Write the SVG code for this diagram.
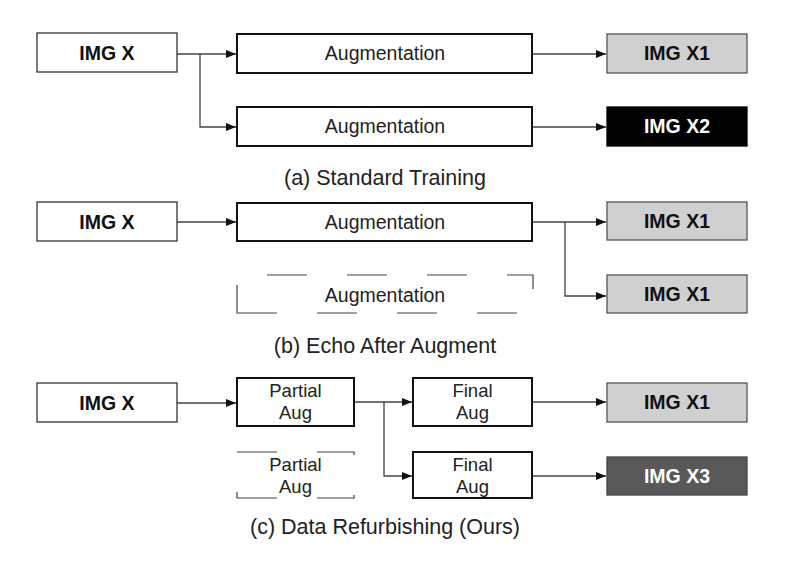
<svg xmlns="http://www.w3.org/2000/svg" width="792" height="567" viewBox="0 0 792 567">
<defs>
<style>
.in{fill:#fff;stroke:#333;stroke-width:1.3}
.aug{fill:#fff;stroke:#111;stroke-width:2}
.dash{fill:none;stroke:#444;stroke-width:1.2;stroke-dasharray:40 40}
.x1{fill:#d0d0d0;stroke:#555;stroke-width:1.3}
.x2{fill:#000;stroke:#000;stroke-width:1.3}
.x3{fill:#585858;stroke:#444;stroke-width:1.3}
.b{font-family:"Liberation Sans",Arial,sans-serif;font-weight:bold;font-size:19.5px;fill:#111;text-anchor:middle}
.w{fill:#fff}
.t{font-family:"Liberation Sans",Arial,sans-serif;font-size:19.5px;fill:#222;text-anchor:middle}
.s{font-family:"Liberation Sans",Arial,sans-serif;font-size:18.5px;fill:#222;text-anchor:middle}
.cap{font-family:"Liberation Sans",Arial,sans-serif;font-size:21.5px;fill:#222;text-anchor:middle}
.c{fill:none;stroke:#444;stroke-width:1.3}
</style>
<marker id="ah" viewBox="0 0 10 8" refX="10" refY="4" markerWidth="10" markerHeight="8" markerUnits="userSpaceOnUse" orient="auto">
<path d="M0,0 L10,4 L0,8 Z" fill="#111"/>
</marker>
</defs>
<rect width="792" height="567" fill="#fff"/>

<g id="connectors">
<path class="c" d="M177,54 H236" marker-end="url(#ah)"/>
<path class="c" d="M200,54 V127 H236" marker-end="url(#ah)"/>
<path class="c" d="M532,54 H606" marker-end="url(#ah)"/>
<path class="c" d="M532,127 H606" marker-end="url(#ah)"/>
<path class="c" d="M177,222 H236" marker-end="url(#ah)"/>
<path class="c" d="M532,222 H606" marker-end="url(#ah)"/>
<path class="c" d="M565,222 V296 H606" marker-end="url(#ah)"/>
<path class="c" d="M177,403 H236" marker-end="url(#ah)"/>
<path class="c" d="M354,402 H412" marker-end="url(#ah)"/>
<path class="c" d="M384,402 V476 H412" marker-end="url(#ah)"/>
<path class="c" d="M532,402 H606" marker-end="url(#ah)"/>
<path class="c" d="M532,476 H606" marker-end="url(#ah)"/>
</g>

<g id="a-imgx"><rect class="in" x="37" y="33" width="140" height="39"/><text class="b" x="107" y="60">IMG X</text></g>
<g id="a-aug1"><rect class="aug" x="237" y="34" width="295" height="39"/><text class="t" x="385" y="60">Augmentation</text></g>
<g id="a-aug2"><rect class="aug" x="237" y="107" width="295" height="39"/><text class="t" x="385" y="133">Augmentation</text></g>
<g id="a-x1"><rect class="x1" x="607" y="34" width="140" height="39"/><text class="b" x="677" y="60">IMG X1</text></g>
<g id="a-x2"><rect class="x2" x="607" y="107" width="140" height="39"/><text class="b w" x="677" y="133">IMG X2</text></g>
<text class="cap" x="385" y="185">(a) Standard Training</text>

<g id="b-imgx"><rect class="in" x="37" y="202" width="140" height="39"/><text class="b" x="107" y="229">IMG X</text></g>
<g id="b-aug1"><rect class="aug" x="237" y="203" width="295" height="38"/><text class="t" x="385" y="229">Augmentation</text></g>
<g id="b-aug2"><path class="dash" d="M237,313 H533 V275 H237 Z"/><text class="t" x="385" y="302">Augmentation</text></g>
<g id="b-x1a"><rect class="x1" x="607" y="202" width="140" height="38"/><text class="b" x="677" y="228">IMG X1</text></g>
<g id="b-x1b"><rect class="x1" x="607" y="275" width="140" height="38"/><text class="b" x="677" y="301">IMG X1</text></g>
<text class="cap" x="385" y="353">(b) Echo After Augment</text>

<g id="c-imgx"><rect class="in" x="37" y="383" width="140" height="39"/><text class="b" x="107" y="410">IMG X</text></g>
<g id="c-pa1"><rect class="aug" x="237" y="378" width="117" height="48"/><text class="s" x="295.5" y="397">Partial</text><text class="s" x="295.5" y="419">Aug</text></g>
<g id="c-pa2"><path class="dash" d="M237,498 H354 V452 H237 Z"/><text class="s" x="295.5" y="471">Partial</text><text class="s" x="295.5" y="493">Aug</text></g>
<g id="c-fa1"><rect class="aug" x="413" y="378" width="119" height="48"/><text class="s" x="472.5" y="397">Final</text><text class="s" x="472.5" y="419">Aug</text></g>
<g id="c-fa2"><rect class="aug" x="413" y="452" width="119" height="46"/><text class="s" x="472.5" y="471">Final</text><text class="s" x="472.5" y="493">Aug</text></g>
<g id="c-x1"><rect class="x1" x="607" y="383" width="140" height="39"/><text class="b" x="677" y="409">IMG X1</text></g>
<g id="c-x3"><rect class="x3" x="607" y="457" width="140" height="38"/><text class="b w" x="677" y="483">IMG X3</text></g>
<text class="cap" x="385" y="534">(c) Data Refurbishing (Ours)</text>
</svg>
